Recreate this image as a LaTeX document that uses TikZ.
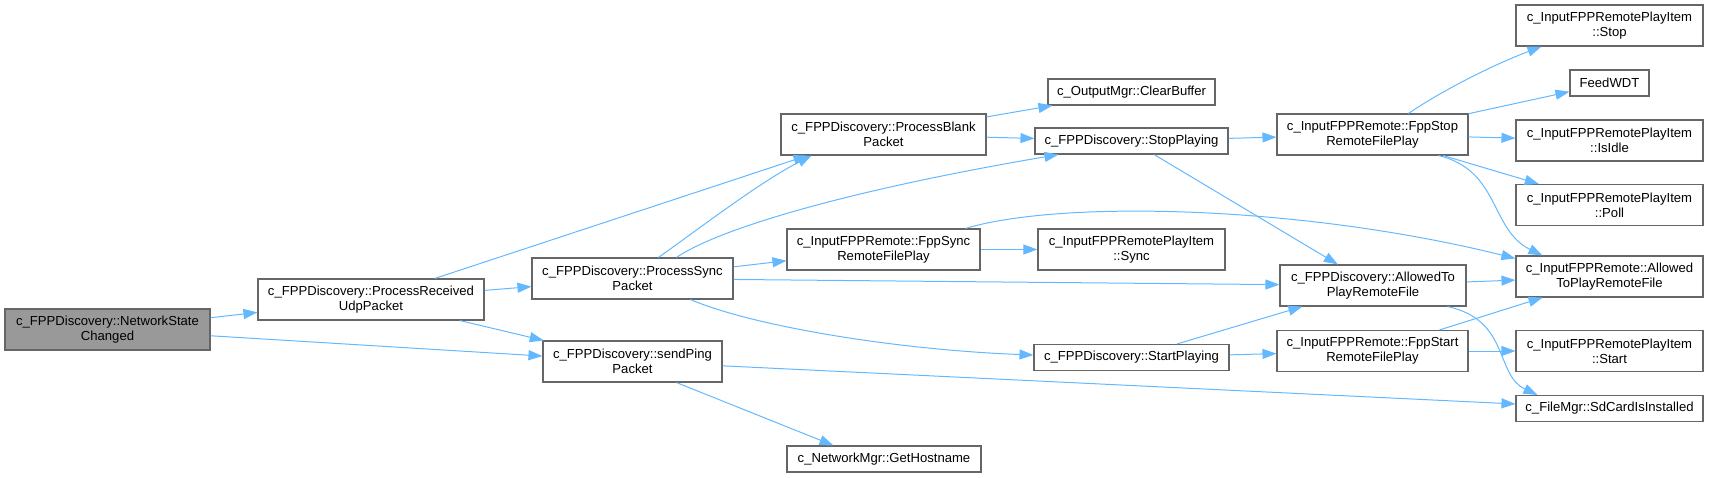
\documentclass[tikz,border=0pt]{standalone}
\usepackage{fontspec}
\setmainfont{Liberation Sans}
\usetikzlibrary{arrows.meta,calc}
\definecolor{edgeblue}{HTML}{63B8FF}
\definecolor{nodeborder}{HTML}{666666}
\definecolor{rootfill}{HTML}{999999}
\begin{document}
\begin{tikzpicture}[x=1pt,y=-1pt,
  box/.style={draw=nodeborder, line width=1.1pt, fill=white, inner sep=0pt, align=center,
    font=\fontsize{13.1}{15}\selectfont, text=black},
  rootbox/.style={box, fill=rootfill},
  two/.style={minimum width=#1pt, minimum height=41pt},
  one/.style={minimum width=#1pt, minimum height=26pt},
  link/.style={draw=edgeblue, line width=1pt, -{Triangle[length=14pt,width=10pt]}}
]
\useasboundingbox (0,0) rectangle (1709,477);

\node[rootbox, two=205] (nsc) at (107.5,329.5) {c\_FPPDiscovery::NetworkState\\Changed};
\node[box, two=226] (pru) at (371,299.5) {c\_FPPDiscovery::ProcessReceived\\UdpPacket};
\node[box, two=201] (psync) at (632.5,278.5) {c\_FPPDiscovery::ProcessSync\\Packet};
\node[box, two=179] (sendping) at (632.5,361.5) {c\_FPPDiscovery::sendPing\\Packet};
\node[box, two=205] (pblank) at (883.5,134.5) {c\_FPPDiscovery::ProcessBlank\\Packet};
\node[box, two=193] (fppsync) at (883.5,249.5) {c\_InputFPPRemote::FppSync\\RemoteFilePlay};
\node[box, one=194] (gethost) at (884,459) {c\_NetworkMgr::GetHostname};
\node[box, one=167] (clearbuf) at (1131.5,92) {c\_OutputMgr::ClearBuffer};
\node[box, one=193] (stopplay) at (1131.5,141) {c\_FPPDiscovery::StopPlaying};
\node[box, two=187] (sync) at (1131.5,249.5) {c\_InputFPPRemotePlayItem\\::Sync};
\node[box, one=195] (startplay) at (1131.5,357.5) {c\_FPPDiscovery::StartPlaying};
\node[box, two=191] (fppstop) at (1372.5,134.5) {c\_InputFPPRemote::FppStop\\RemoteFilePlay};
\node[box, two=186] (allowedto) at (1373,285.5) {c\_FPPDiscovery::AllowedTo\\PlayRemoteFile};
\node[box, two=191] (fppstart) at (1372.5,351) {c\_InputFPPRemote::FppStart\\RemoteFilePlay};
\node[box, two=187] (stop) at (1609.5,25.5) {c\_InputFPPRemotePlayItem\\::Stop};
\node[box, one=79] (feedwdt) at (1609.5,83) {FeedWDT};
\node[box, two=187] (isidle) at (1609.5,140.5) {c\_InputFPPRemotePlayItem\\::IsIdle};
\node[box, two=187] (poll) at (1609.5,205) {c\_InputFPPRemotePlayItem\\::Poll};
\node[box, two=187] (allowed) at (1609.5,276.5) {c\_InputFPPRemote::Allowed\\ToPlayRemoteFile};
\node[box, two=187] (start) at (1609.5,351) {c\_InputFPPRemotePlayItem\\::Start};
\node[box, one=187] (sdcard) at (1609.5,408.5) {c\_FileMgr::SdCardIsInstalled};

\draw[link] (nsc) -- (pru);
\draw[link] (nsc) -- (sendping);
\draw[link] (pru) -- ($(pblank.south west)+(27,0)$);
\draw[link] (pru) -- (psync);
\draw[link] (pru) -- (sendping);
\draw[link] ($(psync.north west)+(127,0)$) .. controls (700,228) and (760,182) .. ($(pblank.south west)+(31,0)$);
\draw[link] ($(psync.north west)+(145,0)$) .. controls (720,228) and (850,190) .. ($(stopplay.south west)+(24,0)$);
\draw[link] (psync) -- (fppsync);
\draw[link] (psync) -- (allowedto);
\draw[link] ($(psync.south west)+(159,0)$) .. controls (755,327) and (900,350) .. ($(startplay.west)+(0,-2.5)$);
\draw[link] (sendping) -- (sdcard);
\draw[link] ($(sendping.south west)+(134,0)$) -- ($(gethost.north west)+(47,0)$);
\draw[link] (pblank) -- (clearbuf);
\draw[link] (pblank) -- (stopplay);
\draw[link] (fppsync) -- (sync);
\draw[link] ($(fppsync.north west)+(179,0)$) .. controls (1060,200) and (1300,205) .. ($(allowed.north west)+(0,3)$);
\draw[link] (stopplay) -- (fppstop);
\draw[link] (stopplay) -- (allowedto);
\draw[link] (startplay) -- (allowedto);
\draw[link] (startplay) -- (fppstart);
\draw[link] ($(fppstop.north west)+(132,0)$) .. controls (1440,92) and (1490,66) .. ($(stop.south west)+(26,0)$);
\draw[link] (fppstop) -- (feedwdt);
\draw[link] (fppstop) -- (isidle);
\draw[link] (fppstop) -- (poll);
\draw[link] ($(fppstop.south west)+(162,0)$) .. controls (1500,170) and (1490,230) .. ($(allowed.north west)+(27,0)$);
\draw[link] (allowedto) -- (allowed);
\draw[link] ($(allowedto.south west)+(168,0)$) .. controls (1510,320) and (1495,375) .. ($(sdcard.north west)+(22,0)$);
\draw[link] (fppstart) -- (allowed);
\draw[link] (fppstart) -- (start);
\end{tikzpicture}
\end{document}
